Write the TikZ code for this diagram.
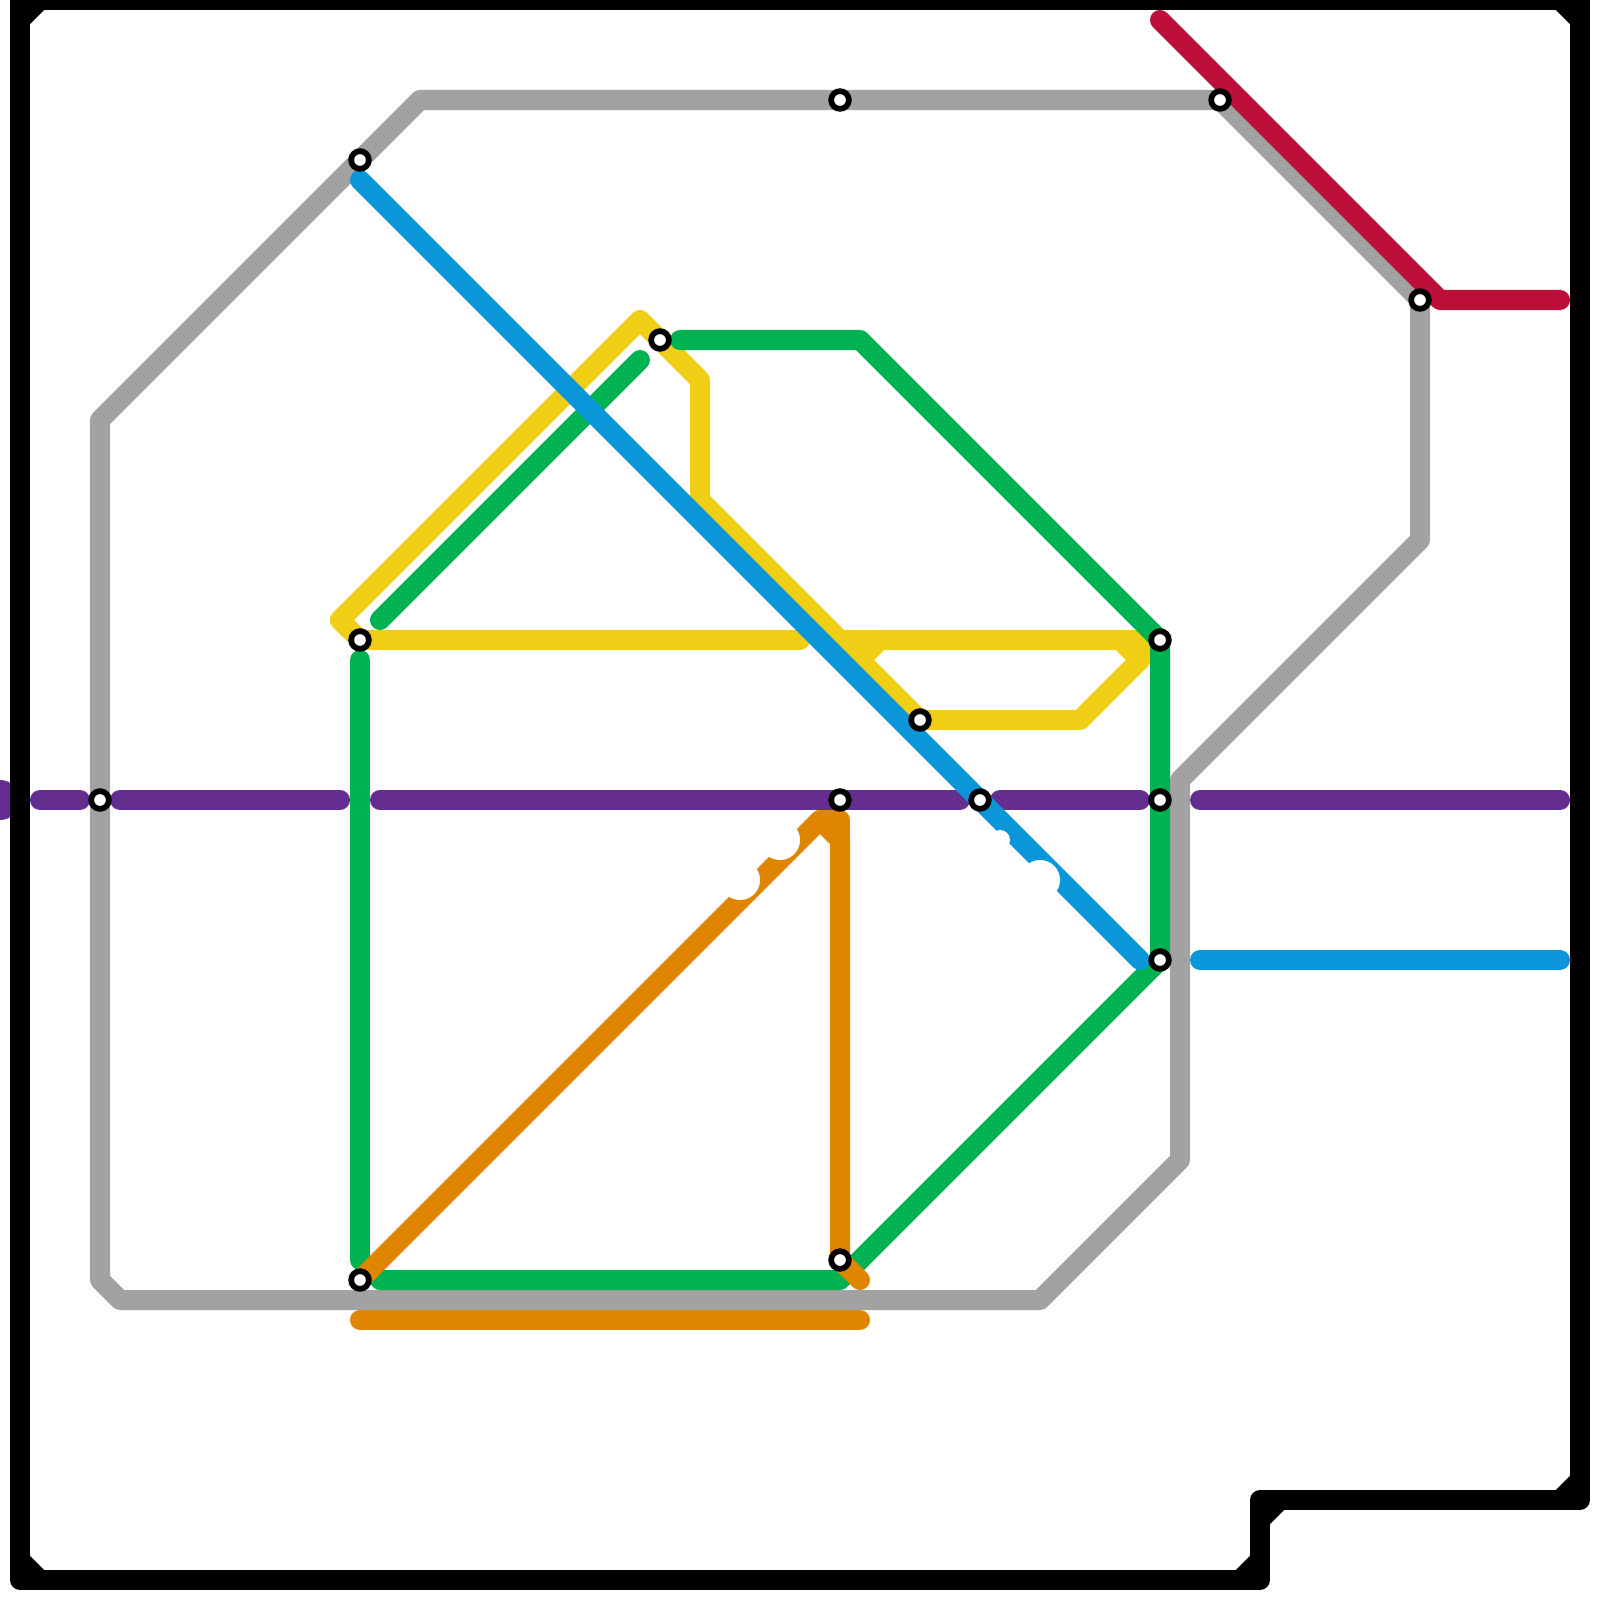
\documentclass[tikz,border=0pt]{standalone}
\definecolor{mgray}{HTML}{A2A2A2}
\definecolor{mpurple}{HTML}{662D91}
\definecolor{mgreen}{HTML}{00B251}
\definecolor{mblue}{HTML}{0A96D8}
\definecolor{myellow}{HTML}{F0CE15}
\definecolor{morange}{HTML}{DF8600}
\definecolor{mred}{HTML}{BD1038}
\tikzset{
  route/.style={line width=0.2cm,line cap=round,line join=round},
  station/.style={circle,draw=black,fill=white,line width=0.057cm,minimum size=0.177cm,inner sep=0pt,outer sep=0pt},
  notch/.style={fill=white,draw=none}
}
\begin{document}
\begin{tikzpicture}[x=0.01cm,y=-0.01cm]
\useasboundingbox (0,0) rectangle (1600,1600);
\clip (0,0) rectangle (1600,1600);
% station positions
\coordinate (sa) at (360,160);
\coordinate (sb) at (840,100);
\coordinate (sc) at (1220,100);
\coordinate (sd) at (1420,300);
\coordinate (se) at (660,340);
\coordinate (sf) at (360,640);
\coordinate (sg) at (1160,640);
\coordinate (sh) at (920,720);
\coordinate (si) at (840,800);
\coordinate (sj) at (980,800);
\coordinate (sk) at (100,800);
\coordinate (sl) at (1160,800);
\coordinate (sm) at (1160,960);
\coordinate (sn) at (840,1260);
\coordinate (so) at (360,1280);
% grey
\draw[route,mgray] (sd) -- (1420,540) -- (1180,780) -- (1180,1160) -- (1040,1300) -- (120,1300) -- (100,1280) -- (sk) -- (100,420) -- (sa) -- (420,100) -- (sb) -- (sc) -- cycle;
% yellow
\draw[route,myellow] (340,620) -- (640,320) -- (700,380) -- (700,500) -- (860,660) -- (880,640) -- (1120,640) -- (1140,660) -- (1080,720) -- (sh) -- (860,660);
\draw[route,myellow] (840,640) -- (1140,640) -- (1140,660);
\draw[route,myellow] (340,620) -- (sf) -- (800,640);
% green
\draw[route,mgreen] (680,340) -- (860,340) -- (sg) -- (sl) -- (sm) -- (840,1280) -- (380,1280);
\draw[route,mgreen] (360,660) -- (360,1260);
\draw[route,mgreen] (380,620) -- (640,360);
% purple
\fill[mpurple] (0,800) circle (20);
\draw[route,mpurple] (40,800) -- (80,800);
\draw[route,mpurple] (120,800) -- (340,800);
\draw[route,mpurple] (380,800) -- (960,800);
\draw[route,mpurple] (1000,800) -- (1140,800);
\draw[route,mpurple] (1200,800) -- (1560,800);
% orange
\draw[route,morange] (so) -- (820,820) -- (840,840) -- (sn) -- (860,1280);
\draw[route,morange] (820,820) -- (840,820) -- (840,840);
\draw[route,morange] (360,1320) -- (860,1320);
% blue
\draw[route,mblue] (360,180) -- (1140,960);
\draw[route,mblue] (1200,960) -- (1560,960);
% red
\draw[route,mred] (1160,20) -- (1440,300) -- (1560,300);
% white bites
\fill[notch] (1000,840) circle (10);
\fill[notch] (1040,880) circle (20);
\fill[notch] (740,880) circle (20);
\fill[notch] (780,840) circle (20);
% black frame
\draw[route,black] (20,1580) -- (1260,1580) -- (1260,1500) -- (1580,1500) -- (1580,0) -- (20,0) -- cycle;
\draw[route,black] (20,20) -- (40,0);
\draw[route,black] (1560,0) -- (1580,20);
\draw[route,black] (20,1560) -- (40,1580);
\draw[route,black] (1240,1580) -- (1260,1560);
\draw[route,black] (1260,1520) -- (1280,1500);
\draw[route,black] (1560,1500) -- (1580,1480);
% stations
\foreach \s in {sa,sb,sc,sd,se,sf,sg,sh,si,sj,sk,sl,sm,sn,so}
  \node[station] (n\s) at (\s) {};
\end{tikzpicture}
\end{document}
